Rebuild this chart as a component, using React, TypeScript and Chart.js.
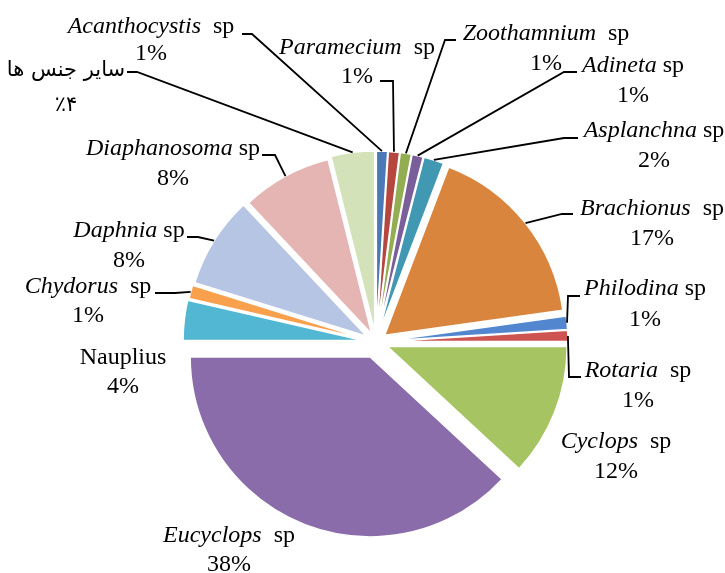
import React, { useEffect, useRef } from 'react';
import { Chart, registerables, ArcElement } from 'chart.js';

Chart.register(...registerables);

// ---- data ----
const genera = [
  'Acanthocystis', 'Paramecium', 'Zoothamnium', 'Adineta', 'Asplanchna',
  'Brachionus', 'Philodina', 'Rotaria', 'Cyclops', 'Eucyclops',
  'Nauplius', 'Chydorus', 'Daphnia', 'Diaphanosoma', 'سایر جنس ها',
];
const nameSuffix = [
  '  sp', '  sp', '  sp', ' sp', ' sp',
  '  sp', ' sp', '  sp', '  sp', '  sp',
  '', '  sp', ' sp', ' sp', '',
];
const italicName = [
  true, true, true, true, true,
  true, true, true, true, true,
  false, true, true, true, false,
];
const values = [1.0, 1.0, 1.0, 1.0, 1.8, 17.0, 1.2, 1.0, 11.9, 38.1, 3.6, 1.2, 8.2, 8.1, 3.9];
const percentLabels = ['1%', '1%', '1%', '1%', '2%', '17%', '1%', '1%', '12%', '38%', '4%', '1%', '8%', '8%', '٪۴'];

// ---- styles / layout ----
const sliceColors = [
  '#4A7AB6', '#B5473F', '#93AE52', '#7A5E9A', '#4198B3',
  '#D9853E', '#5287D0', '#CD5451', '#A6C462', '#8A6CAB',
  '#51B7D3', '#F9A04D', '#B6C5E4', '#E5B5B4', '#D4E2BA',
];
const explodePx = [11, 11, 11, 11, 11, 11, 12, 12, 12, 16, 13, 12, 11, 9, 11];
// [centre x, baseline line 1, baseline line 2]
const labelPos: number[][] = [
  [151, 33, 60],
  [357, 54, 83],
  [546, 40, 70],
  [633, 72, 102],
  [654, 137, 167],
  [652, 215, 245],
  [645, 295, 326],
  [638, 377, 407],
  [616, 448, 478],
  [229, 542, 571],
  [123, 364, 393],
  [88, 293, 322],
  [129, 237, 267],
  [173, 155, 185],
  [66, 76, 111],
];
// leader: [label-side x, elbow x, y] or null
const leaders: (number[] | null)[] = [
  [242, 252, 34],
  [380, 393, 81],
  [456, 445, 40],
  [577, 564, 72],
  [578, 564, 138],
  [573, 562, 214],
  [580, 568, 296],
  [581, 569, 377],
  null,
  null,
  null,
  [155, 175, 293],
  [187, 198, 237],
  [262, 275, 155],
  [127, 137, 72],
];

const FONT_SIZE = 24;
const SERIF = '"Liberation Serif", "Times New Roman", serif';

// exploded slice drawing: translate each arc by its offset (px) along its mid-angle
ArcElement.prototype.draw = function (ctx: CanvasRenderingContext2D) {
  const o: any = (this as any).options;
  const self: any = this;
  const d = o.offset || 0;
  const mid = (self.startAngle + self.endAngle) / 2;
  ctx.save();
  ctx.translate(Math.cos(mid) * d, Math.sin(mid) * d);
  ctx.beginPath();
  ctx.moveTo(self.x, self.y);
  ctx.arc(self.x, self.y, self.outerRadius, self.startAngle, self.endAngle);
  ctx.closePath();
  ctx.fillStyle = o.backgroundColor;
  ctx.fill();
  if (o.borderWidth) {
    ctx.lineWidth = o.borderWidth;
    ctx.strokeStyle = o.borderColor;
    ctx.lineJoin = 'miter';
    ctx.stroke();
  }
  ctx.restore();
};

function drawParts(ctx: CanvasRenderingContext2D, parts: { t: string; it: boolean; f?: string }[], cx: number, y: number) {
  const widths = parts.map((p) => {
    ctx.font = p.f || `${p.it ? 'italic ' : ''}${FONT_SIZE}px ${SERIF}`;
    return ctx.measureText(p.t).width;
  });
  const total = widths.reduce((a, b) => a + b, 0);
  let x = cx - total / 2;
  parts.forEach((p, k) => {
    ctx.font = p.f || `${p.it ? 'italic ' : ''}${FONT_SIZE}px ${SERIF}`;
    ctx.fillText(p.t, x, y);
    x += widths[k];
  });
}

const labelPlugin = {
  id: 'pieLabels',
  afterDraw(chart: any) {
    const ctx: CanvasRenderingContext2D = chart.ctx;
    const meta = chart.getDatasetMeta(0);
    ctx.save();
    ctx.fillStyle = '#000';
    ctx.strokeStyle = '#000';
    ctx.lineWidth = 1.8;
    ctx.textAlign = 'left';
    ctx.textBaseline = 'alphabetic';
    meta.data.forEach((arc: any, i: number) => {
      const mid = (arc.startAngle + arc.endAngle) / 2;
      const r = arc.outerRadius + explodePx[i];
      const ax = arc.x + Math.cos(mid) * r;
      const ay = arc.y + Math.sin(mid) * r;
      const ld = leaders[i];
      if (ld) {
        ctx.beginPath();
        ctx.moveTo(ld[0], ld[2]);
        ctx.lineTo(ld[1], ld[2]);
        ctx.lineTo(ax, ay);
        ctx.stroke();
      }
      const [cx, y1, y2] = labelPos[i];
      const isArabic = /[\u0600-\u06FF]/.test(genera[i]);
      if (isArabic) {
        const af = `21px "DejaVu Sans", ${SERIF}`;
        drawParts(ctx, [{ t: genera[i], it: false, f: af }], cx, y1);
        drawParts(ctx, [{ t: percentLabels[i], it: false, f: af }], cx, y2);
      } else {
        const parts = [{ t: genera[i], it: italicName[i] }];
        if (nameSuffix[i]) parts.push({ t: nameSuffix[i], it: false });
        drawParts(ctx, parts, cx, y1);
        drawParts(ctx, [{ t: percentLabels[i], it: false }], cx, y2);
      }
    });
    ctx.restore();
  },
};

export default function App() {
  const ref = useRef<HTMLCanvasElement | null>(null);
  useEffect(() => {
    if (!ref.current) return;
    const chart = new Chart(ref.current, {
      type: 'pie',
      data: {
        labels: genera,
        datasets: [
          {
            data: values,
            backgroundColor: sliceColors,
            borderColor: '#FFFFFF',
            borderWidth: 1.5,
            offset: explodePx,
          },
        ],
      },
      options: {
        responsive: false,
        animation: false,
        radius: 180,
        layout: { padding: { left: 27, top: 111, right: 0, bottom: 0 } },
        plugins: {
          legend: { display: false },
          tooltip: { enabled: false },
        },
      } as any,
      plugins: [labelPlugin],
    });
    return () => chart.destroy();
  }, []);
  return (
    <div style={{ position: 'absolute', left: 0, top: 0, width: 725, height: 573, background: '#fff' }}>
      <canvas ref={ref} width={725} height={573} style={{ display: 'block' }} />
    </div>
  );
}
